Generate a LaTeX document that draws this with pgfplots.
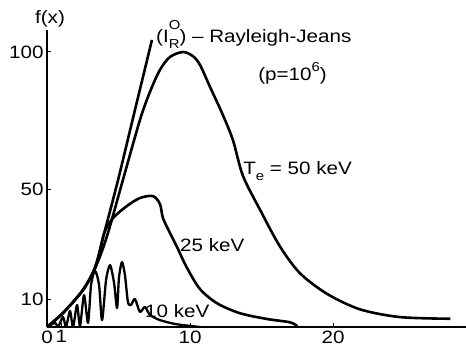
\documentclass[border=0pt]{standalone}
\usepackage{fontspec}
\setmainfont{Liberation Sans}[FakeStretch=1.15]
\usepackage{pgfplots}
\pgfplotsset{compat=1.18}

\newcommand{\lbl}{\fontsize{18}{21}\selectfont}
\newcommand{\scr}{\fontsize{13}{14}\selectfont}

\begin{document}
\begin{tikzpicture}
\begin{axis}[
  scale only axis, width=419bp, height=297bp,
  xmin=0, xmax=29.3, ymin=0, ymax=108,
  axis lines*=left,
  axis line style={line width=1.6bp, black},
  xtick={0,1,10,20}, ytick={10,50,100},
  tick style={line width=1bp, black}, major tick length=4bp,
  tick label style={font=\lbl},
  /pgf/number format/assume math mode=true,
  clip=false,
  curve/.style={black, no markers, line width=2.6bp, smooth, tension=0.5, line join=round},
]
% Rayleigh-Jeans limit
\addplot[curve] coordinates {(0,0) (1.12,5.1) (2.52,13.5) (3.36,21.8) (4.06,35.3)
  (4.97,53.5) (6.15,78.9) (7.34,104.4)};

% T_e = 50 keV
\addplot[curve] coordinates {(0,0) (1.12,5.1) (2.52,13.5) (3.43,22.2) (4.20,33.1)
  (5.31,53.5) (6.50,75.3) (7.20,85.5) (7.90,93.5) (8.60,98.2) (9.51,100)
  (10.2,98.5) (10.7,95.3) (11.4,87.3) (12.24,77.8) (13.0,68.0) (13.7,55.0)
  (14.9,42.6) (16.3,29.2) (17.7,19.5) (19.6,12.0) (21.9,6.4) (24.7,3.6)
  (28.2,3.0)};

% T_e = 25 keV
\addplot[curve] coordinates {(0,0) (1.12,5.1) (2.52,13.5) (3.43,22.2) (3.99,34.0)
  (4.62,39.6) (5.59,44.0) (6.50,46.9) (7.41,47.6) (7.90,44.7) (8.11,39.6)
  (8.60,34.2) (9.09,29.1) (9.79,21.5) (10.7,13.8) (11.9,8.6) (13.5,5.0)
  (15.4,2.9) (17.0,1.7) (17.5,0.3)};

% T_e = 10 keV (oscillating spectrum)
\addplot[curve, line width=2.3bp, tension=0.45] coordinates {(0,0) (0.56,1.5) (0.77,0)
  (1.12,3.6) (1.33,0) (1.61,5.8) (1.82,0) (2.10,8.0) (2.31,0.4) (2.59,11.6)
  (2.87,1.5) (3.08,15.3) (3.36,20.4) (3.64,15.3) (3.85,2.5) (4.13,17.1)
  (4.41,22.5) (4.69,16.0) (4.90,6.9) (5.03,17.8) (5.24,23.6) (5.45,18.9)
  (5.66,9.1) (5.87,8.0) (6.15,10.2) (6.50,5.5) (6.85,7.3) (7.20,4.4)
  (7.90,2.5) (8.95,1.1) (10.0,0.4) (10.7,0)};

\node[anchor=base, font=\lbl] at (axis cs:0.21,110.2) {f(x)};
\node[anchor=base west, font=\lbl, inner sep=0pt] at (axis cs:7.62,103.6)
  {(I\makebox[0pt][l]{\raisebox{0.72em}{\scr O}}\raisebox{-0.38em}{\scr R}) \textendash{} Rayleigh-Jeans};
\node[anchor=base west, font=\lbl, inner sep=0pt] at (axis cs:14.76,89.8)
  {(p=10\raisebox{0.5em}{\scr 6})};
\node[anchor=base west, font=\lbl, inner sep=0pt] at (axis cs:13.71,55.3)
  {T\raisebox{-0.3em}{\scr e} = 50 keV};
\node[anchor=base west, font=\lbl, inner sep=0pt] at (axis cs:9.30,27.3) {25 keV};
\node[anchor=base west, font=\lbl, inner sep=0pt] at (axis cs:6.85,3.3) {10 keV};
\end{axis}
\pgfresetboundingbox
\path[use as bounding box] (-47bp,-27bp) rectangle (419bp,327bp);
\end{tikzpicture}
\end{document}
